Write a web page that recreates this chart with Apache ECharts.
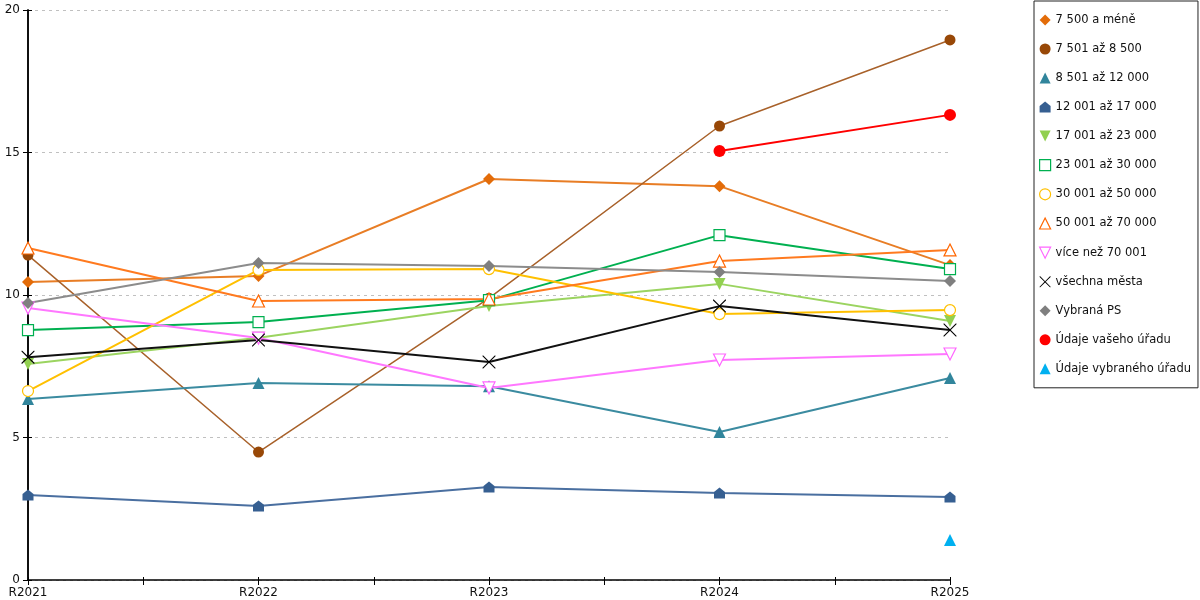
<!DOCTYPE html>
<html>
<head>
<meta charset="utf-8">
<script src="https://cdn.jsdelivr.net/npm/echarts@6/dist/echarts.min.js"></script>
<style>
html, body { margin: 0; padding: 0; background: #fff; }
#chart { width: 1200px; height: 600px; }
</style>
</head>
<body>
<div id="chart"></div>
<script>
var categories = ['R2021', 'R2022', 'R2023', 'R2024', 'R2025'];
var yTicks = [0, 5, 10, 15, 20];

var do7500 = [10.46, 10.67, 14.07, 13.82, 11.05];
var do8500 = [11.40, 4.49, 9.89, 15.93, 18.95];
var do12000 = [6.35, 6.91, 6.80, 5.19, 7.09];
var do17000 = [2.98, 2.60, 3.26, 3.05, 2.91];
var do23000 = [7.58, 8.50, 9.61, 10.39, 9.09];
var do30000 = [8.77, 9.05, 9.82, 12.10, 10.91];
var do50000 = [6.63, 10.88, 10.91, 9.33, 9.47];
var do70000 = [11.65, 9.79, 9.86, 11.19, 11.58];
var nad70000 = [9.54, 8.49, 6.74, 7.72, 7.93];
var vsechnaMesta = [7.82, 8.42, 7.65, 9.61, 8.77];
var vybranaPS = [9.72, 11.12, 11.02, 10.81, 10.49];
var vasUrad = [null, null, null, 15.05, 16.32];
var vybranyUrad = [null, null, null, null, 1.40];

// symboly
var houseSym = 'path://M0,4 L5,0 L10,4 L10,10 L0,10 Z';
var downTri = 'path://M0,0 L10,0 L5,10 Z';
var crossSym = 'path://M0,0 L0.6,0 L5,4.4 L9.4,0 L10,0 L10,0.6 L5.6,5 L10,9.4 L10,10 L9.4,10 L5,5.6 L0.6,10 L0,10 L0,9.4 L4.4,5 L0,0.6 Z';

function pts(arr) {
	return arr.map(function(v, i) { return [i, v]; });
}

function mk(name, data, color, symbol, opts) {
	opts = opts || {};
	return {
		name: name,
		type: 'line',
		data: pts(data),
		symbol: symbol,
		symbolSize: opts.size || 11,
		showSymbol: true,
		connectNulls: false,
		color: color,
		lineStyle: { width: opts.width || 2, color: opts.lineColor || color },
		itemStyle: {
			color: opts.hollow ? '#fff' : color,
			borderColor: color,
			borderWidth: opts.hollow ? 1.2 : 0
		},
		emphasis: { disabled: true },
		animation: false,
		z: opts.z || 2
	};
}

var series = [
	mk('7 500 a méně', do7500, '#e36c09', 'diamond', { size: 12, lineColor: '#e87d25' }),
	mk('7 501 až 8 500', do8500, '#984807', 'circle', { width: 1.5, lineColor: '#a8612a' }),
	mk('8 501 až 12 000', do12000, '#31859c', 'triangle', { size: 12, lineColor: '#3b8ba0' }),
	mk('12 001 až 17 000', do17000, '#365f91', houseSym, { lineColor: '#4a6fa0' }),
	mk('17 001 až 23 000', do23000, '#92d050', downTri, { size: 12, lineColor: '#9bd460' }),
	mk('23 001 až 30 000', do30000, '#00b050', 'rect', { hollow: true }),
	mk('30 001 až 50 000', do50000, '#ffc000', 'circle', { hollow: true }),
	mk('50 001 až 70 000', do70000, '#ff6600', 'triangle', { size: 12, hollow: true, lineColor: '#ff7a1f' }),
	mk('více než 70 001', nad70000, '#ff66ff', downTri, { size: 12, hollow: true, lineColor: '#ff77ff' }),
	mk('všechna města', vsechnaMesta, '#000000', crossSym, { size: 13, lineColor: '#111' }),
	mk('Vybraná PS', vybranaPS, '#7f7f7f', 'diamond', { size: 12, lineColor: '#8c8c8c' }),
	mk('Údaje vašeho úřadu', vasUrad, '#ff0000', 'circle', { size: 12, z: 3 }),
	mk('Údaje vybraného úřadu', vybranyUrad, '#00b0f0', 'triangle', { size: 12, z: 3 })
];

var legendIcons = ['diamond', 'circle', 'triangle', houseSym, downTri, 'rect', 'circle',
	'triangle', downTri, crossSym, 'diamond', 'circle', 'triangle'];

var chart = echarts.init(document.getElementById('chart'));
chart.setOption({
	backgroundColor: '#fff',
	animation: false,
	textStyle: { fontFamily: 'DejaVu Sans' },
	grid: { left: 28, right: 250, top: 10, bottom: 20, containLabel: false },
	legend: {
		orient: 'vertical',
		left: 1034,
		top: 1,
		padding: [13, 7, 13, 5],
		itemWidth: 11,
		itemHeight: 11,
		itemGap: 17,
		borderColor: '#222',
		borderWidth: 1,
		selectedMode: false,
		textStyle: { fontSize: 11.5, color: '#111', fontFamily: 'DejaVu Sans' },
		data: series.map(function(s, i) {
			return { name: s.name, icon: legendIcons[i], itemStyle: s.itemStyle };
		})
	},
	xAxis: [{
		type: 'value',
		min: 0,
		max: categories.length - 1,
		interval: 0.5,
		axisLine: { show: true, lineStyle: { color: '#000', width: 1.5 } },
		axisTick: { show: true, length: 5, lineStyle: { color: '#000' } },
		splitLine: { show: false },
		axisLabel: {
			fontSize: 12,
			color: '#111',
			margin: 7,
			formatter: function(v) {
				return Number.isInteger(v) ? categories[v] : '';
			}
		}
	}, {
		// vnitrni cast tick znacek
		type: 'value',
		position: 'bottom',
		min: 0,
		max: categories.length - 1,
		interval: 0.5,
		axisLine: { show: false },
		axisTick: { show: true, inside: true, length: 3, lineStyle: { color: '#000' } },
		axisLabel: { show: false },
		splitLine: { show: false }
	}],
	yAxis: [{
		type: 'value',
		min: yTicks[0],
		max: yTicks[yTicks.length - 1],
		interval: 5,
		axisLine: { show: true, lineStyle: { color: '#000', width: 1.5 } },
		axisTick: { show: true, length: 5, lineStyle: { color: '#000' } },
		axisLabel: { fontSize: 12, color: '#111', margin: 8 },
		splitLine: { show: true, lineStyle: { color: '#c0c0c0', type: [3, 4] } }
	}, {
		type: 'value',
		position: 'right',
		min: yTicks[0],
		max: yTicks[yTicks.length - 1],
		interval: 5,
		axisLine: { show: true, lineStyle: { color: '#000', width: 1.5 } },
		axisTick: { show: false },
		axisLabel: { show: false },
		splitLine: { show: false }
	}, {
		type: 'value',
		position: 'left',
		offset: 0,
		min: yTicks[0],
		max: yTicks[yTicks.length - 1],
		interval: 5,
		axisLine: { show: false },
		axisTick: { show: true, inside: true, length: 4, lineStyle: { color: '#000' } },
		axisLabel: { show: false },
		splitLine: { show: false }
	}],
	series: series
});
</script>
</body>
</html>
